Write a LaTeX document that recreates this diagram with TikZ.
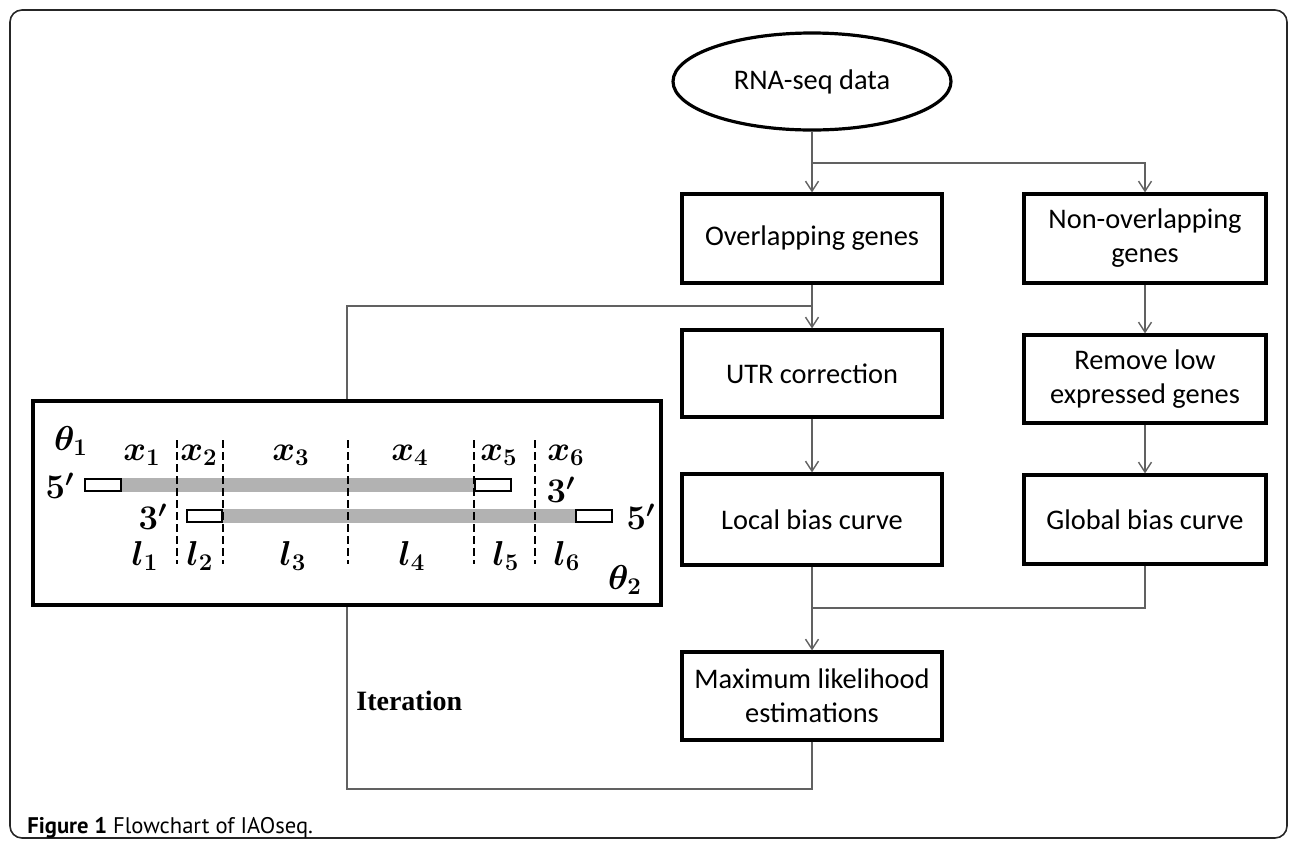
\documentclass[tikz,border=0pt]{standalone}
\usepackage{fontspec}
\usetikzlibrary{arrows.meta,shapes.geometric}
\newfontfamily\calib{Carlito}
\newfontfamily\capfont{PT Sans}
\newfontfamily\timesf{Liberation Serif}
\begin{document}
\begin{tikzpicture}[x=0.5pt,y=-0.5pt,
  flowbox/.style={draw=black, line width=1.6pt, rectangle, inner sep=0pt, align=center,
    font=\calib\fontsize{14.2}{17}\selectfont},
  leftcol/.style={flowbox, minimum width=130pt},
  rightcol/.style={flowbox, minimum width=121pt},
  conn/.style={draw=black!62, line width=0.7pt},
  arr/.style={conn, -{Straight Barb[length=5pt,width=6.5pt,line width=0.7pt]}},
  lab/.style={inner sep=0pt, font=\fontsize{17}{20}\selectfont\boldmath},
  dashsep/.style={draw=black, line width=1pt, dash pattern=on 4pt off 2pt},
  strand/.style={fill=black!30, draw=none},
  endbox/.style={draw=black, fill=white, line width=1pt}
]
\useasboundingbox (0,0) rectangle (1293,842);
% outer frame
\draw[line width=0.8pt, rounded corners=6pt, draw=black!85] (10,10) rectangle (1287,838);

% flowchart nodes
\node[draw=black, line width=1.6pt, ellipse, minimum width=139pt, minimum height=48.5pt, inner sep=0pt,
  font=\calib\fontsize{14.2}{17}\selectfont] (rna) at (812,81.5) {RNA-seq data};
\node[leftcol, minimum height=44.5pt] (ov) at (812,238.5) {Overlapping genes};
\node[leftcol, minimum height=43.5pt] (utr) at (812,373.5) {UTR correction};
\node[leftcol, minimum height=45.5pt] (loc) at (812,519.5) {Local bias curve};
\node[leftcol, minimum height=44pt] (ml) at (812,696) {Maximum likelihood\\estimations};
\node[rightcol, minimum height=44.5pt] (non) at (1145,238.5) {Non-overlapping\\genes};
\node[rightcol, minimum height=44pt] (rem) at (1145,379) {Remove low\\expressed genes};
\node[rightcol, minimum height=44.5pt] (glob) at (1145,519.5) {Global bias curve};

% genome box
\node[draw=black, line width=1.6pt, rectangle, minimum width=314pt, minimum height=102pt, inner sep=0pt] (gen) at (347,503) {};

% connectors
\coordinate (j1) at (812,163);
\coordinate (j2) at (812,306);
\coordinate (j3) at (812,608);
\coordinate (j4) at (812,789);
\draw[arr] (rna.south) -- (ov.north);
\draw[arr] (j1) -| (non.north);
\draw[arr] (ov.south) -- (utr.north);
\draw[conn] (gen.north) |- (j2);
\draw[arr] (utr.south) -- (loc.north);
\draw[arr] (non.south) -- (rem.north);
\draw[arr] (rem.south) -- (glob.north);
\draw[conn] (glob.south) |- (j3);
\draw[arr] (loc.south) -- (ml.north);
\draw[conn] (ml.south) -- (j4) -| (gen.south);

\node[anchor=west, inner sep=0pt, font=\timesf\bfseries\fontsize{14}{16}\selectfont] (iter) at (356,701) {Iteration};

% strands
\fill[strand] (121,478) rectangle (475,492);
\fill[strand] (222,508.5) rectangle (576,522.5);
\draw[endbox] (85,479) rectangle (121,491);
\draw[endbox] (475,479) rectangle (511,491);
\draw[endbox] (187,509.5) rectangle (222,521.5);
\draw[endbox] (576,509.5) rectangle (612,521.5);

% dashed separators
\foreach \xx in {177,223,348,474,535} {
  \draw[dashsep] (\xx,440) -- (\xx,564);
}

% labels
\node[lab] (t1) at (71,441) {$\theta_1$};
\node[lab] (x1) at (142,455) {$x_1$};
\node[lab] (x2) at (199,455) {$x_2$};
\node[lab] (x3) at (291,455) {$x_3$};
\node[lab] (x4) at (410,455) {$x_4$};
\node[lab] (x5) at (499,455) {$x_5$};
\node[lab] (x6) at (566,455) {$x_6$};
\node[lab] (f5a) at (60,486) {$5'$};
\node[lab] (f3a) at (561,490) {$3'$};
\node[lab] (f3b) at (153,517) {$3'$};
\node[lab] (f5b) at (641,517) {$5'$};
\node[lab] (l1) at (145,556) {$l_1$};
\node[lab] (l2) at (200,556) {$l_2$};
\node[lab] (l3) at (293,556) {$l_3$};
\node[lab] (l4) at (412,556) {$l_4$};
\node[lab] (l5) at (506,556) {$l_5$};
\node[lab] (l6) at (567,556) {$l_6$};
\node[lab] (t2) at (625,580) {$\theta_2$};

% caption
\node[anchor=base west, inner sep=0pt, font=\capfont\fontsize{11.3}{13}\selectfont] (cap) at (27,833)
  {\textbf{Figure 1} Flowchart of IAOseq.};
\end{tikzpicture}
\end{document}
